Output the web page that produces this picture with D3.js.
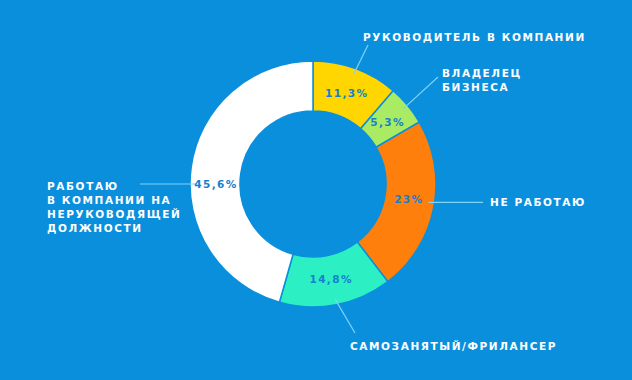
<!DOCTYPE html>
<html>
<head>
<meta charset="utf-8">
<script src="https://cdn.jsdelivr.net/npm/d3@7"></script>
<style>
  html, body { margin: 0; padding: 0; background: #0a8fdd; }
  svg { display: block; }
  .cat { font-family: "DejaVu Sans", sans-serif; font-weight: bold; font-size: 10.5px; letter-spacing: 1.6px; fill: #fff; }
  .val { font-family: "DejaVu Sans", sans-serif; font-weight: bold; font-size: 10.5px; letter-spacing: 1.4px; fill: #1580d0; }
</style>
</head>
<body>
<div id="chart"></div>
<script>
// data, clockwise from 12 o'clock
var categories = ["РУКОВОДИТЕЛЬ В КОМПАНИИ", "ВЛАДЕЛЕЦ\nБИЗНЕСА", "НЕ РАБОТАЮ",
                  "САМОЗАНЯТЫЙ/ФРИЛАНСЕР", "РАБОТАЮ\nВ КОМПАНИИ НА\nНЕРУКОВОДЯЩЕЙ\nДОЛЖНОСТИ"];
var shares = [11.3, 5.3, 23, 14.8, 45.6];
var colors = ["#ffd600", "#a9eb62", "#ff7f0c", "#2cefc4", "#ffffff"];

var width = 632, height = 380;
var cx = 313, cy = 184, rOuter = 123, rInner = 73;

// where each category label sits and where its leader line ends
var layout = [
    { tx: 363, ty: 37,  lx: 368, ly: 45 },
    { tx: 442, ty: 73,  lx: 438, ly: 77 },
    { tx: 490, ty: 202, lx: 483, ly: null, angle: 99 },
    { tx: 350, ty: 346, lx: 355, ly: 333 },
    { tx: 47,  ty: 186, lx: 140, ly: null, angle: 270 }
];

var data = categories.map(function (c, i) {
    return { name: c, value: shares[i], color: colors[i], pos: layout[i] };
});

var svg = d3.select("#chart").append("svg")
    .attr("width", width)
    .attr("height", height);

var g = svg.append("g").attr("transform", "translate(" + cx + "," + cy + ")");

var pie = d3.pie().sort(null).value(function (d) { return d.value; });
var arc = d3.arc().innerRadius(rInner).outerRadius(rOuter);

var slices = pie(data);

g.selectAll("path.slice")
    .data(slices)
    .enter().append("path")
    .attr("class", "slice")
    .attr("d", arc)
    .attr("fill", function (d) { return d.data.color; })
    .attr("stroke", "#0a8fdd")
    .attr("stroke-width", 1.5);

function angleOf(d) {
    if (d.data.pos.angle != null) return d.data.pos.angle * Math.PI / 180;
    return (d.startAngle + d.endAngle) / 2;
}
function polar(a, r) { return [Math.sin(a) * r, -Math.cos(a) * r]; }

// leader lines
g.selectAll("line.leader")
    .data(slices)
    .enter().append("line")
    .attr("class", "leader")
    .each(function (d) {
        var p = polar(angleOf(d), 117);
        var ex = d.data.pos.lx - cx;
        var ey = d.data.pos.ly == null ? p[1] : d.data.pos.ly - cy;
        d3.select(this)
            .attr("x1", p[0]).attr("y1", p[1])
            .attr("x2", ex).attr("y2", ey);
    })
    .attr("stroke", "#7fd3f7")
    .attr("stroke-width", 1.2);

// value labels
g.selectAll("text.val")
    .data(slices)
    .enter().append("text")
    .attr("class", "val")
    .attr("text-anchor", "middle")
    .attr("dy", "0.36em")
    .attr("transform", function (d) {
        return "translate(" + polar(angleOf(d), 97) + ")";
    })
    .text(function (d) { return String(d.data.value).replace(".", ",") + "%"; });

// category labels
var lab = svg.selectAll("text.cat")
    .data(data)
    .enter().append("text")
    .attr("class", "cat")
    .attr("x", function (d) { return d.pos.tx; })
    .attr("y", function (d) { return d.pos.ty; });

lab.selectAll("tspan")
    .data(function (d) { return d.name.split("\n").map(function (s) { return { s: s, x: d.pos.tx }; }); })
    .enter().append("tspan")
    .attr("x", function (d) { return d.x; })
    .attr("dy", function (d, i) { return i === 0 ? "0.36em" : "14px"; })
    .text(function (d) { return d.s; });
</script>
</body>
</html>
